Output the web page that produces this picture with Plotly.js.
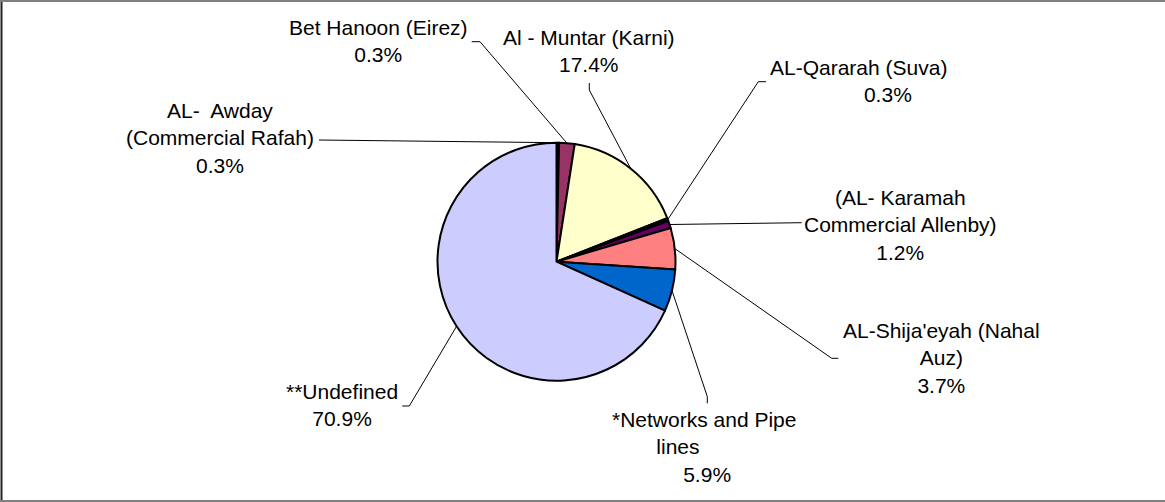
<!DOCTYPE html>
<html>
<head>
<meta charset="utf-8">
<script src="https://cdn.plot.ly/plotly-3.0.1.min.js"></script>
<style>html,body{margin:0;padding:0;background:#fff;}#chart{width:1165px;height:502px;}</style>
</head>
<body>
<div id="chart"></div>
<script>
// Crossings, in clockwise order from 12 o'clock
const crossings = [
  "AL-\u00a0 Awday<br>(Commercial Rafah)",
  "Bet Hanoon (Eirez)",
  "Al - Muntar (Karni)",
  "AL-Qararah (Suva)",
  "(AL- Karamah<br>Commercial Allenby)",
  "AL-Shija'eyah (Nahal<br>Auz)",
  "*Networks and Pipe<br>lines\u00a0\u00a0\u00a0\u00a0\u00a0\u00a0\u00a0\u00a0\u00a0",
  "**Undefined"
];
// Slice shares as drawn
const sliceShares = [0.35, 2.1, 16.6, 0.4, 1.0, 5.6, 5.7, 68.3];
// Percent labels printed on the chart
const pctLabels = ["0.3%", "0.3%", "17.4%", "\u00a0\u00a0\u00a0\u00a0\u00a0\u00a0\u00a0\u00a0\u00a0\u00a00.3%", "1.2%", "3.7%", "\u00a05.9%", "70.9%"];
const sliceColors = ["#000000", "#993366", "#FFFFCC", "#000000", "#660066", "#FF8080", "#0066CC", "#CCCCFF"];

const W = 1165, H = 502;
const CX = 556.5, CY = 261.7, R = 119;
const FS = 21;
const px = x => x / W;
const py = y => 1 - y / H;

// label blocks: pixel centre x, mean baseline y
const labelPos = [
  [219.5, 145.6], [378.3, 48.3], [588.8, 58.0], [858.7, 88.6],
  [900.8, 232.3], [941.7, 364.8], [704.3, 454.7], [341.7, 412.5]
];
// leader line elbow points near the labels (pixels)
const leaderElbows = [
  [[319, 140]],
  [[471.7, 41.7], [480, 41.7]],
  [[589.3, 83], [589.3, 90]],
  [[766, 81.7], [758.3, 81.7]],
  [[801.7, 222.7]],
  [[838.3, 358.3], [831.7, 358.3]],
  [[707.3, 403.3], [707.3, 396.7]],
  [[402.3, 406], [409.3, 406]]
];

const total = sliceShares.reduce((a, b) => a + b, 0);
let cum = 0;
const shapes = [];
const annotations = [];
sliceShares.forEach((v, i) => {
  const mid = (cum + v / 2) / total * 2 * Math.PI;
  cum += v;
  const ax = CX + R * Math.sin(mid), ay = CY - R * Math.cos(mid);
  const pts = leaderElbows[i].concat([[ax, ay]]);
  for (let k = 0; k < pts.length - 1; k++) {
    shapes.push({type: 'line', xref: 'paper', yref: 'paper',
      x0: px(pts[k][0]), y0: py(pts[k][1]), x1: px(pts[k + 1][0]), y1: py(pts[k + 1][1]),
      line: {color: '#000', width: 1}});
  }
  annotations.push({xref: 'paper', yref: 'paper', x: px(labelPos[i][0]), y: py(labelPos[i][1] - 0.3465 * FS),
    xanchor: 'center', yanchor: 'middle', align: 'center', showarrow: false,
    text: crossings[i] + '<br>' + pctLabels[i],
    font: {family: 'Liberation Sans, Arial, sans-serif', size: FS, color: '#000'}});
});

// outer frame
shapes.push({type: 'line', xref: 'paper', yref: 'paper', x0: px(1.5), x1: px(1.5), y0: 0, y1: 1, line: {color: '#222', width: 2}});
shapes.push({type: 'line', xref: 'paper', yref: 'paper', x0: 0, x1: 1, y0: py(1), y1: py(1), line: {color: '#808080', width: 2}});
shapes.push({type: 'line', xref: 'paper', yref: 'paper', x0: 0, x1: 1, y0: py(501), y1: py(501), line: {color: '#808080', width: 2}});

const trace = {
  type: 'pie',
  labels: crossings,
  values: sliceShares,
  sort: false,
  direction: 'clockwise',
  rotation: 0,
  textinfo: 'none',
  textposition: 'none',
  hoverinfo: 'none',
  showlegend: false,
  marker: {colors: sliceColors, line: {color: '#000', width: 2}},
  domain: {x: [px(CX - R), px(CX + R)], y: [(H - CY - R) / H, (H - CY + R) / H]}
};

Plotly.newPlot('chart', [trace], {
  width: W, height: H,
  margin: {l: 0, r: 0, t: 0, b: 0},
  paper_bgcolor: '#fff',
  showlegend: false,
  shapes: shapes,
  annotations: annotations
}, {displayModeBar: false, staticPlot: true});
</script>
</body>
</html>
